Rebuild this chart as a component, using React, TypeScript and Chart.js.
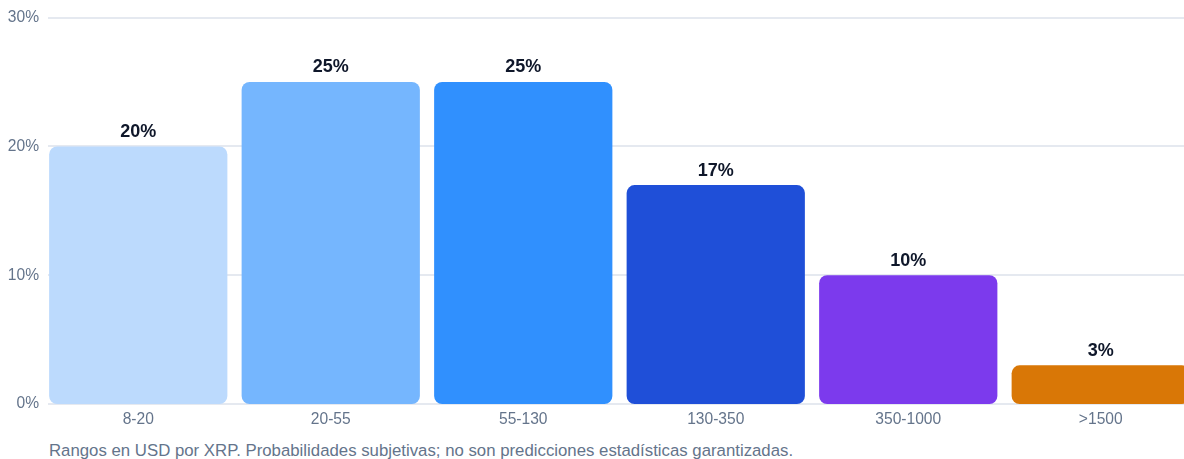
import React, { useEffect, useRef } from "react";
import { Chart, registerables } from "chart.js";

Chart.register(...registerables);

const categories = ["8-20", "20-55", "55-130", "130-350", "350-1000", ">1500"];
const probabilities = [20, 25, 25, 17, 10, 3];
const barColors = ["#bcdafd", "#75b6fe", "#3090fe", "#1f4fd8", "#7c3aed", "#d97706"];
const yTicks = [0, 10, 20, 30];
const caption =
  "Rangos en USD por XRP. Probabilidades subjetivas; no son predicciones estadísticas garantizadas.";

const FONT = "'Liberation Sans', Arial, Helvetica, sans-serif";

const gridPlugin = {
  id: "customGrid",
  beforeDatasetsDraw(chart: any) {
    const { ctx, chartArea, scales } = chart;
    const y = scales.y;
    ctx.save();
    ctx.strokeStyle = "#e5e9f0";
    ctx.lineWidth = 2;
    yTicks.forEach((v) => {
      const py = Math.round(y.getPixelForValue(v));
      ctx.beginPath();
      ctx.moveTo(chartArea.left + 6, py);
      ctx.lineTo(chartArea.right, py);
      ctx.stroke();
    });
    ctx.restore();
  },
};

const valueLabelPlugin = {
  id: "valueLabels",
  afterDatasetsDraw(chart: any) {
    const { ctx } = chart;
    const meta = chart.getDatasetMeta(0);
    ctx.save();
    ctx.font = `bold 18px ${FONT}`;
    ctx.fillStyle = "#0f172a";
    ctx.textAlign = "center";
    ctx.textBaseline = "middle";
    meta.data.forEach((bar: any, i: number) => {
      ctx.fillText(`${probabilities[i]}%`, bar.x, bar.y - 14.5);
    });
    ctx.restore();
  },
};

export default function App() {
  const ref = useRef<HTMLCanvasElement | null>(null);

  useEffect(() => {
    document.documentElement.style.overflow = "hidden";
    if (!ref.current) return;
    const chart = new Chart(ref.current, {
      type: "bar",
      data: {
        labels: categories,
        datasets: [
          {
            data: probabilities,
            backgroundColor: barColors,
            borderRadius: 8,
            borderSkipped: false,
            categoryPercentage: 1,
            barPercentage: 0.926,
          },
        ],
      },
      options: {
        responsive: false,
        animation: false,
        layout: { padding: { top: 0, right: 11, left: 0, bottom: 0 } },
        plugins: {
          legend: { display: false },
          tooltip: { enabled: false },
        },
        scales: {
          x: {
            grid: { display: false, drawTicks: false },
            border: { display: false },
            ticks: {
              color: "#64748b",
              padding: 6,
              font: { size: 15.6, family: FONT },
            },
            afterFit(scale: any) {
              scale.height = 34;
            },
          },
          y: {
            min: 0,
            max: 30,
            grid: { display: false, drawTicks: false },
            border: { display: false },
            ticks: {
              stepSize: 10,
              color: "#64748b",
              padding: 3,
              font: { size: 15.6, family: FONT },
              callback: (v: any) => `${v}%`,
            },
            afterFit(scale: any) {
              scale.width = 34;
              scale.paddingTop = 9.6;
              scale.paddingBottom = 0;
            },
          },
        },
      },
      plugins: [gridPlugin, valueLabelPlugin],
    });
    return () => chart.destroy();
  }, []);

  return (
    <div
      style={{
        position: "fixed",
        left: 0,
        top: 0,
        width: 1184,
        height: 459,
        overflow: "hidden",
        background: "#ffffff",
      }}
    >
      <canvas
        ref={ref}
        width={1200}
        height={430}
        style={{ position: "absolute", left: 8, top: 8, display: "block", width: 1200, height: 430 }}
      />
      <div
        style={{
          position: "absolute",
          left: 49,
          top: 441,
          fontFamily: FONT,
          fontSize: 16.8,
          lineHeight: "20px",
          color: "#64748b",
          whiteSpace: "nowrap",
        }}
      >
        {caption}
      </div>
    </div>
  );
}
